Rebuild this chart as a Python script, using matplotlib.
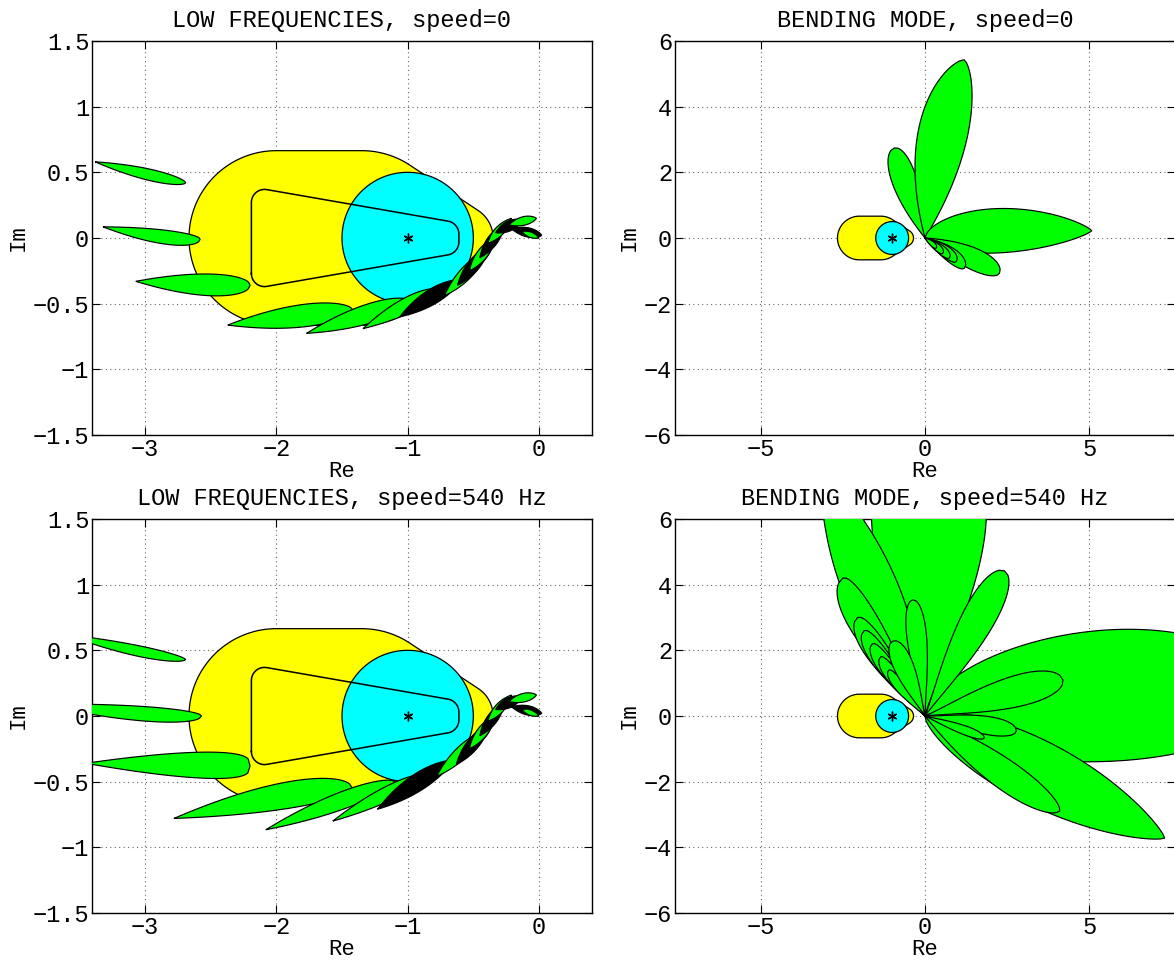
import numpy as np
import matplotlib
matplotlib.use("Agg")
import matplotlib.pyplot as plt

plt.rcParams['font.family'] = ['Liberation Mono', 'DejaVu Sans Mono']

GREEN = '#00ff00'
YELLOW = '#ffff00'
CYAN = '#00ffff'

titles = ["LOW FREQUENCIES, speed=0", "BENDING MODE, speed=0",
          "LOW FREQUENCIES, speed=540 Hz", "BENDING MODE, speed=540 Hz"]

# performance region: hull of disks (center x, radius) on the real axis
perf_cx = [-2.0, -1.35, -0.6]
perf_r = [0.665, 0.665, 0.25]

# disk around the critical point
crit_x, crit_y, crit_r = -1.0, 0.0, 0.5

# rounded trapezoid contour: corner centres and corner radius
trap_x = [-2.09, -2.09, -0.71, -0.71]
trap_y = [0.27, -0.27, 0.03, -0.03]
trap_r = 0.10

low_ticks_y = [-1.5, -1, -0.5, 0, 0.5, 1, 1.5]
low_ticks_x = [-3, -2, -1, 0]
bend_ticks_y = [-6, -4, -2, 0, 2, 4, 6]
bend_ticks_x = [-5, 0, 5]

# uncertainty leaves: x0, y0, x1, y1, width left, width right, a, b, colour
leaves_low_0 = [
    (-3.38, 0.58, -2.69, 0.42, 0.04, 0.045, 1.0, 0.6, 'g'),
    (-3.32, 0.085, -2.58, -0.01, 0.035, 0.07, 1.0, 0.5, 'g'),
    (-3.07, -0.33, -2.20, -0.36, 0.075, 0.09, 1.0, 0.5, 'g'),
    (-2.37, -0.663, -1.42, -0.545, 0.085, 0.085, 1.0, 0.6, 'g'),
    (-1.77, -0.726, -0.98, -0.48, 0.075, 0.07, 1.0, 0.6, 'g'),
    (-1.34, -0.69, -0.75, -0.40, 0.07, 0.05, 1.0, 0.6, 'g'),
    (-1.06, -0.60, -0.60, -0.32, 0.06, 0.055, 1.0, 0.8, 'k'),
    (-0.72, -0.44, -0.42, -0.12, 0.045, 0.05, 1.0, 0.8, 'g'),
    (-0.62, -0.36, -0.37, -0.05, 0.045, 0.045, 1.0, 1.0, 'k'),
    (-0.53, -0.25, -0.33, 0.01, 0.04, 0.04, 1.0, 1.0, 'g'),
    (-0.45, -0.15, -0.26, 0.11, 0.04, 0.04, 1.0, 1.0, 'k'),
    (-0.39, -0.04, -0.21, 0.15, 0.035, 0.035, 1.0, 1.0, 'g'),
    (-0.33, 0.04, -0.12, 0.14, 0.04, 0.035, 1.0, 1.0, 'k'),
    (-0.23, 0.10, -0.02, 0.15, 0.035, 0.03, 1.0, 0.8, 'g'),
    (-0.21, 0.07, 0.02, 0.02, 0.035, 0.035, 1.0, 0.8, 'k'),
    (-0.13, 0.05, 0.00, 0.00, 0.02, 0.02, 1.0, 1.0, 'g'),
]

leaves_low_540 = [
    (-3.60, 0.62, -2.69, 0.43, 0.03, 0.05, 1.0, 0.6, 'g'),
    (-3.80, 0.09, -2.57, 0.00, 0.04, 0.07, 1.0, 0.5, 'g'),
    (-3.45, -0.36, -2.20, -0.38, 0.10, 0.10, 1.0, 0.3, 'g'),
    (-2.78, -0.78, -1.42, -0.55, 0.13, 0.07, 1.0, 0.5, 'g'),
    (-2.08, -0.866, -1.10, -0.50, 0.07, 0.06, 1.0, 0.6, 'g'),
    (-1.57, -0.80, -0.85, -0.45, 0.06, 0.05, 1.0, 0.6, 'g'),
    (-1.23, -0.71, -0.66, -0.34, 0.07, 0.06, 1.0, 0.8, 'k'),
    (-0.78, -0.46, -0.44, -0.13, 0.045, 0.05, 1.0, 0.8, 'g'),
    (-0.63, -0.37, -0.37, -0.05, 0.045, 0.045, 1.0, 1.0, 'k'),
    (-0.53, -0.25, -0.33, 0.01, 0.04, 0.04, 1.0, 1.0, 'g'),
    (-0.45, -0.15, -0.26, 0.11, 0.04, 0.04, 1.0, 1.0, 'k'),
    (-0.39, -0.04, -0.21, 0.16, 0.035, 0.035, 1.0, 1.0, 'g'),
    (-0.33, 0.05, -0.12, 0.15, 0.04, 0.035, 1.0, 1.0, 'k'),
    (-0.23, 0.11, -0.02, 0.16, 0.035, 0.03, 1.0, 0.8, 'g'),
    (-0.21, 0.07, 0.02, 0.02, 0.035, 0.035, 1.0, 0.8, 'k'),
    (-0.13, 0.05, 0.00, 0.00, 0.02, 0.02, 1.0, 1.0, 'g'),
]

leaves_bend_0 = [
    (0.0, 0.0, -0.94, 2.74, 0.40, 0.35, 1.0, 0.5, 'g'),
    (0.0, 0.0, 1.19, 5.43, 0.90, 0.60, 1.0, 0.7, 'g'),
    (0.0, 0.0, 5.08, 0.22, 0.80, 0.55, 0.6, 0.8, 'g'),
    (0.0, 0.0, 2.27, -1.07, 0.38, 0.27, 1.0, 0.5, 'g'),
    (0.0, 0.0, 1.20, -0.92, 0.28, 0.14, 1.0, 0.5, 'g'),
    (0.0, 0.0, 0.95, -0.72, 0.22, 0.11, 1.0, 0.5, 'g'),
    (0.0, 0.0, 0.74, -0.61, 0.17, 0.09, 1.0, 0.5, 'g'),
    (0.0, 0.0, 0.54, -0.47, 0.13, 0.07, 1.0, 0.5, 'g'),
    (0.0, 0.0, 0.34, -0.31, 0.09, 0.05, 1.0, 0.5, 'g'),
]

leaves_bend_540 = [
    (0.0, 0.0, 10.5, 0.60, 2.30, 1.70, 0.6, 0.5, 'g'),
    (0.0, 0.0, 7.30, -3.72, 1.00, 0.95, 0.7, 0.8, 'g'),
    (0.0, 0.0, 4.10, -2.90, 0.40, 0.50, 1.0, 0.6, 'g'),
    (0.0, 0.0, 0.10, 8.80, 1.70, 1.80, 1.2, 0.5, 'g'),
    (0.0, 0.0, -3.20, 7.60, 0.85, 0.80, 1.0, 1.0, 'g'),
    (0.0, 0.0, -2.50, 4.20, 0.60, 0.30, 1.2, 0.5, 'g'),
    (0.0, 0.0, -2.05, 3.00, 0.45, 0.25, 1.2, 0.5, 'g'),
    (0.0, 0.0, -1.85, 2.60, 0.38, 0.20, 1.2, 0.5, 'g'),
    (0.0, 0.0, -1.60, 2.20, 0.32, 0.17, 1.2, 0.5, 'g'),
    (0.0, 0.0, -1.35, 1.80, 0.26, 0.14, 1.2, 0.5, 'g'),
    (0.0, 0.0, -1.10, 1.40, 0.20, 0.11, 1.2, 0.5, 'g'),
    (0.0, 0.0, 2.42, 4.42, 0.50, 0.50, 1.2, 0.5, 'g'),
    (0.0, 0.0, -0.37, 3.54, 0.30, 0.30, 1.2, 0.5, 'g'),
    (0.0, 0.0, -0.98, 2.28, 0.30, 0.30, 1.2, 0.5, 'g'),
    (0.0, 0.0, 4.20, 1.10, 0.50, 0.45, 1.2, 0.5, 'g'),
    (0.0, 0.0, 2.78, -0.46, 0.30, 0.25, 1.2, 0.5, 'g'),
    (0.0, 0.0, 1.80, -0.67, 0.15, 0.12, 1.2, 0.5, 'g'),
]


def convex_hull(pts):
    pts = sorted(set(map(tuple, np.round(pts, 9))))

    def cross(o, a, b):
        return (a[0] - o[0]) * (b[1] - o[1]) - (a[1] - o[1]) * (b[0] - o[0])

    lower, upper = [], []
    for p in pts:
        while len(lower) >= 2 and cross(lower[-2], lower[-1], p) <= 0:
            lower.pop()
        lower.append(p)
    for p in reversed(pts):
        while len(upper) >= 2 and cross(upper[-2], upper[-1], p) <= 0:
            upper.pop()
        upper.append(p)
    return np.array(lower[:-1] + upper[:-1])


def disk_points(cx, cy, r, n=200):
    t = np.linspace(0, 2 * np.pi, n, endpoint=False)
    return np.column_stack([cx + r * np.cos(t), cy + r * np.sin(t)])


def leaf_polygon(x0, y0, x1, y1, wl, wr, a, b, n=80):
    s = np.linspace(0, 1, n)
    f = s ** a * (1 - s) ** b
    f = f / f.max()
    dx, dy = x1 - x0, y1 - y0
    L = np.hypot(dx, dy)
    nx, ny = -dy / L, dx / L
    bx, by = x0 + s * dx, y0 + s * dy
    left = np.column_stack([bx + wl * f * nx, by + wl * f * ny])
    right = np.column_stack([bx - wr * f * nx, by - wr * f * ny])
    return np.vstack([left, right[::-1]])


def draw_regions(ax, with_contour):
    pts = np.vstack([disk_points(cx, 0.0, r) for cx, r in zip(perf_cx, perf_r)])
    hull = convex_hull(pts)
    ax.fill(hull[:, 0], hull[:, 1], facecolor=YELLOW, edgecolor='black', lw=0.9, zorder=2)
    circ = disk_points(crit_x, crit_y, crit_r, 300)
    ax.fill(circ[:, 0], circ[:, 1], facecolor=CYAN, edgecolor='black', lw=0.9, zorder=3)
    if with_contour:
        tp = np.vstack([disk_points(x, y, trap_r, 60) for x, y in zip(trap_x, trap_y)])
        th = convex_hull(tp)
        th = np.vstack([th, th[:1]])
        ax.plot(th[:, 0], th[:, 1], color='black', lw=1.1, zorder=4)
    ax.plot([crit_x], [crit_y], marker=(6, 2, 0), color='black', ms=7, mew=1.0, zorder=8)


def draw_leaves(ax, leaves):
    for (x0, y0, x1, y1, wl, wr, a, b, c) in leaves:
        poly = leaf_polygon(x0, y0, x1, y1, wl, wr, a, b)
        face = GREEN if c == 'g' else 'black'
        ax.fill(poly[:, 0], poly[:, 1], facecolor=face, edgecolor='black', lw=0.85, zorder=5)


def fmt(v):
    return ('%g' % v).replace('-', '\u2212')


def style(ax, xlim, ylim, xt, yt, title):
    ax.set_xlim(*xlim)
    ax.set_ylim(*ylim)
    ax.set_xticks(xt)
    ax.set_xticklabels([fmt(v) for v in xt])
    ax.set_yticks(yt)
    ax.set_yticklabels([fmt(v) for v in yt])
    ax.set_axisbelow(True)
    ax.grid(True, linestyle=(0, (1, 3)), color='#666666', lw=0.8)
    ax.tick_params(direction='in', length=6, width=0.8, top=True, right=True,
                   labelsize=17, pad=2, colors='black')
    for sp in ax.spines.values():
        sp.set_linewidth(1.0)
        sp.set_color('black')
    ax.set_title(title, fontsize=17, pad=10)
    ax.set_xlabel('Re', fontsize=16, labelpad=0)
    ax.set_ylabel('Im', fontsize=16, labelpad=3)


W, H = 1174, 960
fig = plt.figure(figsize=(W / 100, H / 100), dpi=100)


def add_axes(l, t, w, h):
    return fig.add_axes([l / W, 1 - (t + h) / H, w / W, h / H])


box_w, box_h = 500, 394
low_half = 1.5 * box_w / box_h
bend_half = 6.0 * box_w / box_h

ax_tl = add_axes(92, 41, box_w, box_h)
ax_tr = add_axes(675, 41, box_w, box_h)
ax_bl = add_axes(92, 519, box_w, box_h)
ax_br = add_axes(675, 519, box_w, box_h)

for ax, leaves, title in [(ax_tl, leaves_low_0, titles[0]), (ax_bl, leaves_low_540, titles[2])]:
    draw_regions(ax, True)
    draw_leaves(ax, leaves)
    style(ax, (-1.5 - low_half, -1.5 + low_half), (-1.5, 1.5), low_ticks_x, low_ticks_y, title)

for ax, leaves, title in [(ax_tr, leaves_bend_0, titles[1]), (ax_br, leaves_bend_540, titles[3])]:
    draw_regions(ax, False)
    draw_leaves(ax, leaves)
    style(ax, (-bend_half, bend_half), (-6, 6), bend_ticks_x, bend_ticks_y, title)

fig.savefig('out.png', dpi=100)
